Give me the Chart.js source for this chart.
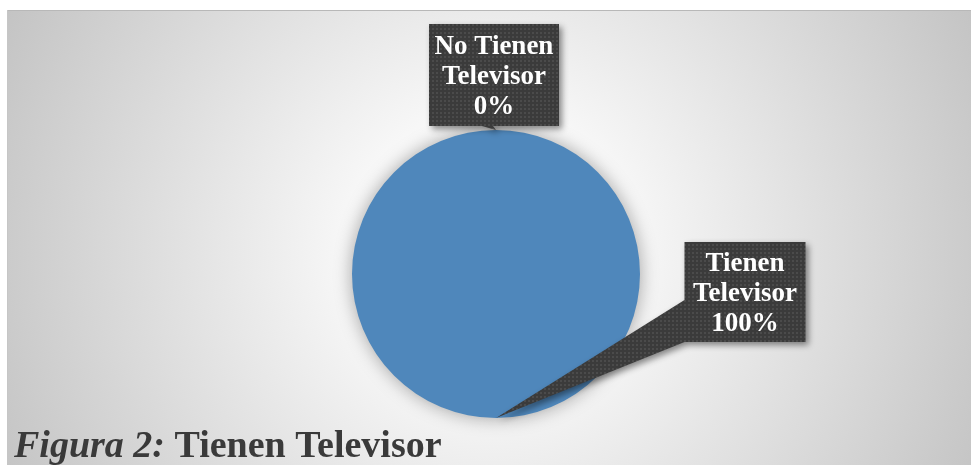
<!DOCTYPE html>
<html>
<head>
<meta charset="utf-8">
<script src="https://cdn.jsdelivr.net/npm/chart.js@4/dist/chart.umd.min.js"></script>
<style>
  html, body { margin: 0; padding: 0; background: #fff; }
  #wrap { width: 971px; height: 465px; position: relative; }
</style>
</head>
<body>
<div id="wrap"><canvas id="pieChart" width="971" height="465"></canvas></div>
<script>
// Data
const categories = ['No Tienen Televisor', 'Tienen Televisor'];
const values = [0, 100];
const labelLines = [['No Tienen', 'Televisor'], ['Tienen', 'Televisor']];

// Callout placement relative to the slice edge point (dx, dy of box centre)
const calloutOffsets = [[-2, -55], [249, -126]];
const calloutSizes = [[130, 102], [121, 100]];

const serif = '"Liberation Serif", "Times New Roman", serif';

// small dotted texture used by the callout boxes
function makePattern(ctx) {
    const c = document.createElement('canvas');
    c.width = 4; c.height = 4;
    const p = c.getContext('2d');
    p.fillStyle = '#3b3b3b';
    p.fillRect(0, 0, 4, 4);
    p.fillStyle = '#4b4b4b';
    p.fillRect(0, 0, 2, 2);
    return ctx.createPattern(c, 'repeat');
}

// background panel + caption
const backgroundPlugin = {
    id: 'panel',
    beforeDraw(chart) {
        const ctx = chart.ctx;
        ctx.save();
        ctx.fillStyle = '#ffffff';
        ctx.fillRect(0, 0, chart.width, chart.height);
        const g = ctx.createRadialGradient(490, 250, 0, 490, 250, 600);
        g.addColorStop(0, '#ffffff');
        g.addColorStop(0.2, '#fafafa');
        g.addColorStop(1, '#bcbcbc');
        ctx.fillStyle = g;
        ctx.fillRect(7, 10, chart.width - 7, chart.height - 10);
        ctx.fillStyle = '#b8b8b8';
        ctx.fillRect(7, 10, chart.width - 7, 1);
        ctx.fillStyle = '#c6c6c6';
        ctx.fillRect(7, 10, 1, chart.height - 10);
        ctx.restore();
    },
    beforeDatasetsDraw(chart) {
        const ctx = chart.ctx;
        ctx.save();
        ctx.shadowColor = 'rgba(0,0,0,0.35)';
        ctx.shadowBlur = 18;
    },
    afterDatasetsDraw(chart) {
        chart.ctx.restore();
    },
    afterDraw(chart) {
        const ctx = chart.ctx;
        ctx.save();
        ctx.fillStyle = '#3a3a3a';
        ctx.textBaseline = 'alphabetic';
        ctx.font = 'italic bold 38px ' + serif;
        const first = 'Figura 2: ';
        ctx.fillText(first, 14, 457);
        const w = ctx.measureText(first).width;
        ctx.font = 'bold 38px ' + serif;
        ctx.fillText('Tienen Televisor', 14 + w, 457);
        ctx.restore();
    }
};

// callout labels pointing at each slice
const calloutPlugin = {
    id: 'callouts',
    afterDatasetsDraw(chart) {
        const ctx = chart.ctx;
        const meta = chart.getDatasetMeta(0);
        const total = values.reduce((a, b) => a + b, 0);
        const pattern = makePattern(ctx);
        meta.data.forEach((arc, i) => {
            const mid = (arc.startAngle + arc.endAngle) / 2;
            const tipX = arc.x + Math.cos(mid) * arc.outerRadius;
            const tipY = arc.y + Math.sin(mid) * arc.outerRadius;
            const cx = tipX + calloutOffsets[i][0];
            const cy = tipY + calloutOffsets[i][1];
            const bw = calloutSizes[i][0], bh = calloutSizes[i][1];
            const left = cx - bw / 2, top = cy - bh / 2;
            const right = left + bw, bottom = top + bh;

            // box outline with the tail as one polygon (clockwise)
            ctx.save();
            ctx.beginPath();
            ctx.moveTo(left, top);
            ctx.lineTo(right, top);
            ctx.lineTo(right, bottom);
            if (tipX < left) {
                ctx.lineTo(left, bottom);
                ctx.lineTo(tipX, tipY);
                ctx.lineTo(left, top + bh * 0.58);
            } else {
                ctx.lineTo(cx - 1, bottom);
                ctx.lineTo(tipX, tipY);
                ctx.lineTo(cx - 12, bottom);
                ctx.lineTo(left, bottom);
            }
            ctx.closePath();
            ctx.shadowColor = 'rgba(0,0,0,0.45)';
            ctx.shadowBlur = 6;
            ctx.shadowOffsetX = 3;
            ctx.shadowOffsetY = 3;
            ctx.fillStyle = pattern;
            ctx.fill();
            ctx.restore();

            ctx.save();
            ctx.fillStyle = '#ffffff';
            ctx.font = 'bold 27px ' + serif;
            ctx.textAlign = 'center';
            ctx.textBaseline = 'alphabetic';
            const pct = Math.round(values[i] / total * 100) + '%';
            const lines = labelLines[i].concat([pct]);
            const lh = 30;
            const firstBase = cy - lh + 9;
            lines.forEach((t, k) => ctx.fillText(t, cx, firstBase + k * lh));
            ctx.restore();
        });
    }
};

const ctx = document.getElementById('pieChart').getContext('2d');
new Chart(ctx, {
    type: 'pie',
    data: {
        labels: categories,
        datasets: [{
            data: values,
            backgroundColor: ['#2e5d8c', '#4f87bb'],
            borderWidth: 0
        }]
    },
    options: {
        responsive: false,
        animation: false,
        layout: { padding: { left: 352, right: 331, top: 130, bottom: 47 } },
        plugins: {
            legend: { display: false },
            tooltip: { enabled: false }
        }
    },
    plugins: [backgroundPlugin, calloutPlugin]
});
</script>
</body>
</html>
